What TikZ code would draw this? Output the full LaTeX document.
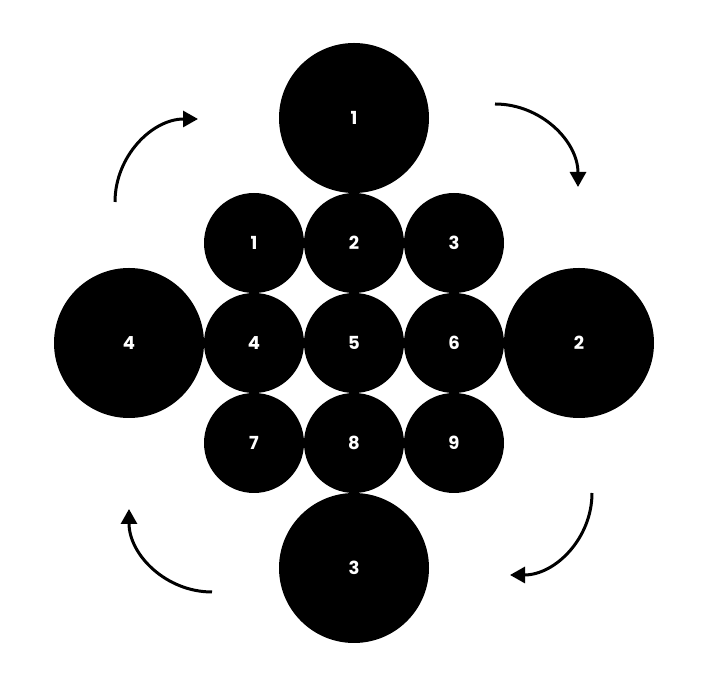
\documentclass[tikz,border=0pt]{standalone}
\usepackage{fontspec}
\setmainfont{Poppins}
\usetikzlibrary{arrows.meta}
\begin{document}
\begin{tikzpicture}[x=1pt,y=1pt,
  small/.style={circle,fill=black,minimum size=100pt,inner sep=0pt,text=white,font=\bfseries\fontsize{18}{21}\selectfont},
  big/.style={circle,fill=black,minimum size=150pt,inner sep=0pt,text=white,font=\bfseries\fontsize{18}{21}\selectfont},
  cyc/.style={line width=3pt,-{Triangle[length=15pt,width=16pt]}}]
\useasboundingbox (0,0) rectangle (710,693);
% small grid
\node[small] (s1) at (254,450) {1};
\node[small] (s2) at (354,450) {2};
\node[small] (s3) at (454,450) {3};
\node[small] (s4) at (254,350) {4};
\node[small] (s5) at (354,350) {5};
\node[small] (s6) at (454,350) {6};
\node[small] (s7) at (254,250) {7};
\node[small] (s8) at (354,250) {8};
\node[small] (s9) at (454,250) {9};
% big circles
\node[big] (b1) at (354,575) {1};
\node[big] (b2) at (579,350) {2};
\node[big] (b3) at (354,125) {3};
\node[big] (b4) at (129,350) {4};
% rotation arrows
\coordinate (a1) at (115,491);
\coordinate (a2) at (495,589);
\coordinate (a3) at (592,200);
\coordinate (a4) at (212,101);
\draw[cyc] (a1) arc[start angle=180,end angle=90,radius=83];
\draw[cyc] (a2) arc[start angle=90,end angle=0,radius=83];
\draw[cyc] (a3) arc[start angle=0,end angle=-90,radius=82];
\draw[cyc] (a4) arc[start angle=270,end angle=180,radius=83];
\end{tikzpicture}
\end{document}
